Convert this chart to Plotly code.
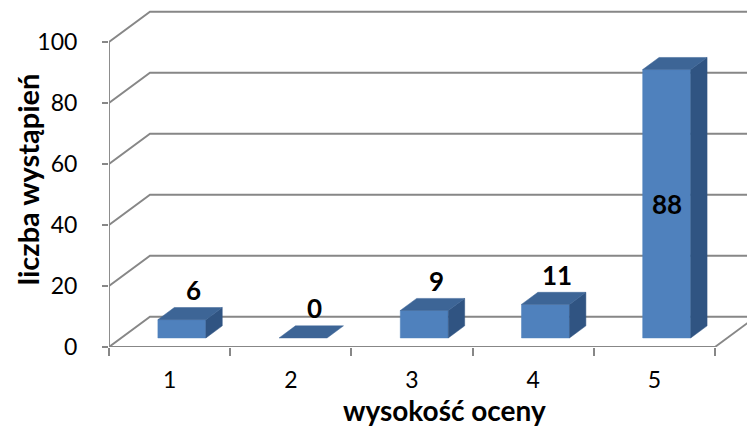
import plotly.graph_objects as go

# ---- data ----
categories = ["1", "2", "3", "4", "5"]
values = [6, 0, 9, 11, 88]
y_ticks = [0, 20, 40, 60, 80, 100]
x_title = "wysokość oceny"
y_title = "liczba wystąpień"

# ---- style / pseudo-3D geometry ----
DX = 0.338        # depth offset in category units
DY = 9.9          # depth offset in value units
F0, F1 = 0.30, 0.70   # bar depth span (fraction of floor depth)
HALF_W = 0.198    # half width of bar front face
GRID = "#878787"
FRONT = "#4f81bd"
TOP = "#3d6596"
SIDE = "#305482"
FONT = "Lato"
LABEL_GAP = 7.8

n = len(categories)
pos = list(range(1, n + 1))
x_lo, x_hi = 0.5, n + 0.5

fig = go.Figure()

# grid: front-left diagonal + back wall line for each tick
for v in y_ticks:
    fig.add_trace(go.Scatter(
        x=[x_lo, x_lo + DX, x_hi + 2],
        y=[v, v + DY, v + DY],
        mode="lines", line=dict(color=GRID, width=1.9),
        hoverinfo="skip", showlegend=False))

# floor right edge diagonal
fig.add_trace(go.Scatter(
    x=[x_hi, x_hi + DX], y=[0, DY], mode="lines",
    line=dict(color=GRID, width=1.9), hoverinfo="skip", showlegend=False))
# front value axis line and front category axis line
fig.add_trace(go.Scatter(
    x=[x_lo, x_lo], y=[y_ticks[0], y_ticks[-1]], mode="lines",
    line=dict(color=GRID, width=1.9), hoverinfo="skip", showlegend=False))
fig.add_trace(go.Scatter(
    x=[x_lo, x_hi], y=[0, 0], mode="lines",
    line=dict(color=GRID, width=1.9), hoverinfo="skip", showlegend=False))


def poly(xs, ys, color):
    fig.add_trace(go.Scatter(
        x=xs + [xs[0]], y=ys + [ys[0]], mode="lines", fill="toself",
        fillcolor=color, line=dict(color=color, width=0.5),
        hoverinfo="skip", showlegend=False))


for c, v in zip(pos, values):
    xl = c - HALF_W + F0 * DX
    xr = c + HALF_W + F0 * DX
    yb = F0 * DY
    yt = yb + v
    ddx = (F1 - F0) * DX
    ddy = (F1 - F0) * DY
    if v > 0:
        poly([xl, xr, xr, xl], [yb, yb, yt, yt], FRONT)
        poly([xr, xr + ddx, xr + ddx, xr], [yb, yb + ddy, yt + ddy, yt], SIDE)
    poly([xl, xr, xr + ddx, xl + ddx], [yt, yt, yt + ddy, yt + ddy], TOP)

    # data label
    ly = v + 0.5 * DY + LABEL_GAP
    if ly + 5 > y_ticks[-1]:
        fig.add_annotation(x=c + F0 * DX, y=F0 * DY + v / 2, text=f"<b>{v}</b>",
                           showarrow=False, font=dict(family=FONT, size=26, color="black"))
    else:
        fig.add_annotation(x=c + 0.5 * DX + 0.03, y=ly, text=f"<b>{v}</b>",
                           showarrow=False, font=dict(family=FONT, size=26, color="black"))

# axis titles
fig.add_annotation(x=0.5 * (x_lo + x_hi) + 0.27, y=0, xref="x", yref="paper",
                   xanchor="center", yanchor="middle",
                   yshift=-63, text=f"<b>{x_title}</b>", showarrow=False,
                   font=dict(family=FONT, size=28, color="black"))
fig.add_annotation(x=0, y=(y_ticks[0] + y_ticks[-1]) / 2 + 5, xref="paper", yref="y",
                   xanchor="center", yanchor="middle",
                   xshift=-82, text=f"<b>{y_title}</b>", textangle=-90, showarrow=False,
                   font=dict(family=FONT, size=29, color="black"))

fig.update_layout(
    width=747, height=427,
    margin=dict(l=109, r=0, t=0, b=80),
    paper_bgcolor="white", plot_bgcolor="white",
    font=dict(family=FONT, size=24, color="black"),
    xaxis=dict(range=[x_lo, x_lo + 638 / 121.2], showgrid=False, zeroline=False,
               showline=False, tickvals=pos, ticktext=categories, ticks="",
               ticklabelstandoff=17, automargin=False,
               tickfont=dict(family=FONT, size=23, color="black"),
               minor=dict(tickvals=[p - 0.5 for p in pos] + [x_hi], ticks="outside",
                          ticklen=8, tickcolor=GRID, tickwidth=1.9, showgrid=False)),
    yaxis=dict(range=[0, 347 / 3.05], showgrid=False, zeroline=False, showline=False,
               tickvals=y_ticks, ticks="outside", ticklen=6, tickcolor=GRID,
               tickwidth=1.9, ticklabelstandoff=20, automargin=False,
               tickfont=dict(family=FONT, size=23, color="black")),
)

fig.write_html("out.html", config={"displayModeBar": False},
               post_script="document.body.style.margin='0';document.body.style.overflow='hidden';")
